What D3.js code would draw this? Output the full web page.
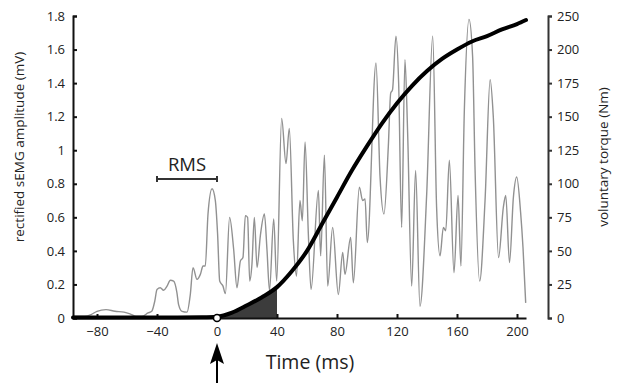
<!DOCTYPE html>
<html>
<head>
<meta charset="utf-8">
<script src="https://cdn.jsdelivr.net/npm/d3@7"></script>
<style>
  body { margin: 0; background: #fff; }
  svg text { font-family: "Open Sans", Lato, sans-serif; fill: #222; }
</style>
</head>
<body>
<div id="chart"></div>
<script>
// rectified sEMG trace (ms, mV)
const emgTime = [-96, -88, -84, -80, -74, -68, -62, -58, -54, -50, -46, -43.5, -41.5, -40, -37.8, -35.6, -33.3, -31.1, -28.9, -26.7,
  -25.6, -23.3, -20, -17.8, -16, -13.3, -11.1, -9.3, -7.8, -6, -3.3, -1.1, 0.4, 1.8, 4, 5.6, 8.4, 11.1, 13.3, 15.6,
  17.3, 18.9, 20.4, 21.8, 23.3, 24.9, 26.7, 28.9, 31.6, 33.3, 35, 37.8, 39.8, 43.1, 46, 48.2, 50.9, 53, 55.3, 56.9,
  58.7, 60.9, 62.7, 67.6, 69.1, 71.6, 73.8, 77.1, 80.9, 83.8, 85.3, 89.1, 90.9, 94.9, 97.1, 98.7, 100.2, 106, 108.7, 111.3,
  114.2, 115.8, 117, 119.3, 121.1, 123.1, 125.3, 127.1, 129.8, 132.4, 135.3, 139.8, 143.8, 146.4, 148.7, 150.9, 152.5, 154.9, 158, 160.7,
  162.6, 164.9, 168, 170.4, 172, 175.1, 178.7, 182.1, 184.2, 187.7, 190.9, 192.5, 195, 197.6, 199.8, 202.4, 204, 205.8];
const emgValue = [0.01, 0.01, 0.02, 0.04, 0.05, 0.04, 0.035, 0.025, 0.01, 0.01, 0.03, 0.04, 0.10, 0.17, 0.18, 0.165, 0.19, 0.225, 0.22, 0.15,
  0.08, 0.04, 0.035, 0.14, 0.30, 0.23, 0.26, 0.31, 0.31, 0.62, 0.77, 0.70, 0.50, 0.22, 0.19, 0.145, 0.60, 0.41, 0.18, 0.34,
  0.36, 0.61, 0.60, 0.22, 0.32, 0.60, 0.30, 0.49, 0.62, 0.41, 0.165, 0.59, 0.22, 1.19, 0.92, 1.13, 0.46, 0.25, 0.70, 0.58,
  1.05, 0.50, 0.17, 0.76, 0.37, 0.97, 0.19, 0.54, 0.14, 0.39, 0.26, 0.48, 0.21, 0.78, 0.70, 0.71, 0.45, 1.52, 0.84, 0.62,
  1.02, 1.34, 1.36, 1.68, 1.40, 0.54, 1.54, 1.10, 0.19, 0.88, 0.07, 0.74, 1.68, 0.66, 0.37, 0.54, 0.52, 0.94, 0.27, 0.73,
  0.31, 1.24, 1.78, 1.56, 0.90, 0.22, 0.70, 1.42, 1.20, 0.36, 0.66, 0.73, 0.33, 0.72, 0.84, 0.63, 0.42, 0.09];

// voluntary torque (ms, axis units)
const torqueTime = [-96, -60, -30, -10, 0, 10, 20, 30, 40, 50, 60, 70, 80, 90, 100, 110, 120, 130, 140, 150, 160, 170, 180, 190, 200, 206];
const torqueValue = [0.3, 0.3, 0.4, 0.6, 1, 4, 9.5, 15.5, 23, 35, 50, 70, 90, 110, 128, 145, 160, 173, 184, 193, 200, 206, 210, 215, 219, 222];

const timeTicks = [-80, -40, 0, 40, 80, 120, 160, 200];
const emgTicks = [0, 0.2, 0.4, 0.6, 0.8, 1, 1.2, 1.4, 1.6, 1.8];
const torqueTicks = [0, 25, 50, 75, 100, 125, 150, 175, 200, 225];
const torqueTickLabels = ['0', '25', '50', '75', '100', '125', '150', '175', '200', '250'];
const rmsWindow = [-40, 0];
const shadeWindow = [0, 40];

const width = 624, height = 383;
const svg = d3.select('#chart').append('svg')
  .attr('width', width)
  .attr('height', height);

const x = d3.scaleLinear().domain([-96, 206]).range([73, 526]);
const yEmg = d3.scaleLinear().domain([0, 1.8]).range([318, 16]);
const yTorque = d3.scaleLinear().domain([0, 225]).range([318, 16]);

const emg = emgTime.map((t, i) => ({ t, v: emgValue[i] }));
const torque = torqueTime.map((t, i) => ({ t, v: torqueValue[i] }));

// shaded area under torque, 0-40 ms
const shade = torque.filter(d => d.t >= shadeWindow[0] && d.t <= shadeWindow[1]);
svg.append('path')
  .datum(shade)
  .attr('fill', '#3c3c3c')
  .attr('d', d3.area().x(d => x(d.t)).y0(yTorque(0)).y1(d => yTorque(d.v)).curve(d3.curveMonotoneX));

// sEMG trace
svg.append('path')
  .datum(emg)
  .attr('fill', 'none')
  .attr('stroke', '#919191')
  .attr('stroke-width', 1.4)
  .attr('d', d3.line().x(d => x(d.t)).y(d => yEmg(d.v)).curve(d3.curveMonotoneX));

// axes
const styleAxis = (g, color) => {
  g.selectAll('path, line').attr('stroke', color).attr('stroke-width', 2);
  g.selectAll('text').attr('font-family', '"Open Sans", Lato, sans-serif').attr('font-size', 13).attr('fill', '#222');
};

svg.append('g')
  .attr('transform', `translate(0,${yEmg(0)})`)
  .call(d3.axisBottom(x).tickValues(timeTicks).tickSize(-4).tickSizeOuter(0).tickPadding(9))
  .call(g => styleAxis(g, '#111'));

svg.append('g')
  .attr('transform', `translate(${x(-96)},0)`)
  .call(d3.axisLeft(yEmg).tickValues(emgTicks).tickFormat(d3.format('~g')).tickSize(-4).tickSizeOuter(-4).tickPadding(8))
  .call(g => styleAxis(g, '#111'));

svg.append('g')
  .attr('transform', 'translate(548,0)')
  .call(d3.axisRight(yTorque).tickValues(torqueTicks).tickFormat((d, i) => torqueTickLabels[i]).tickSize(4).tickSizeOuter(4).tickPadding(5))
  .call(g => styleAxis(g, '#333'));

// torque line
svg.append('path')
  .datum(torque)
  .attr('fill', 'none')
  .attr('stroke', '#000')
  .attr('stroke-width', 4)
  .attr('stroke-linecap', 'round')
  .attr('d', d3.line().x(d => x(d.t)).y(d => yTorque(d.v)).curve(d3.curveMonotoneX));

// onset marker
svg.append('circle')
  .attr('cx', x(0))
  .attr('cy', yEmg(0))
  .attr('r', 3.5)
  .attr('fill', '#fff')
  .attr('stroke', '#000')
  .attr('stroke-width', 1.5);

// RMS bracket
const rmsY = 179;
svg.append('path')
  .attr('fill', 'none')
  .attr('stroke', '#333')
  .attr('stroke-width', 2)
  .attr('d', `M${x(rmsWindow[0])},${rmsY - 3}V${rmsY + 3}M${x(rmsWindow[0])},${rmsY}H${x(rmsWindow[1])}M${x(rmsWindow[1])},${rmsY - 3}V${rmsY + 3}`);
svg.append('text')
  .attr('x', (x(rmsWindow[0]) + x(rmsWindow[1])) / 2)
  .attr('y', 171)
  .attr('text-anchor', 'middle')
  .attr('font-size', 18.5)
  .text('RMS');

// axis titles
svg.append('text')
  .attr('x', 310)
  .attr('y', 369)
  .attr('text-anchor', 'middle')
  .attr('font-size', 19.5)
  .text('Time (ms)');

svg.append('text')
  .attr('transform', 'translate(24,147) rotate(-90)')
  .attr('text-anchor', 'middle')
  .attr('font-size', 13.5)
  .text('rectified sEMG amplitude (mV)');

svg.append('text')
  .attr('transform', 'translate(608,157) rotate(-90)')
  .attr('text-anchor', 'middle')
  .attr('font-size', 13.5)
  .text('voluntary torque (Nm)');

// onset arrow
const ax = x(0);
svg.append('line')
  .attr('x1', ax).attr('x2', ax)
  .attr('y1', 383).attr('y2', 352)
  .attr('stroke', '#000')
  .attr('stroke-width', 2);
svg.append('path')
  .attr('fill', '#000')
  .attr('d', `M${ax},343L${ax + 7},364L${ax},360L${ax - 7},364Z`);
</script>
</body>
</html>
